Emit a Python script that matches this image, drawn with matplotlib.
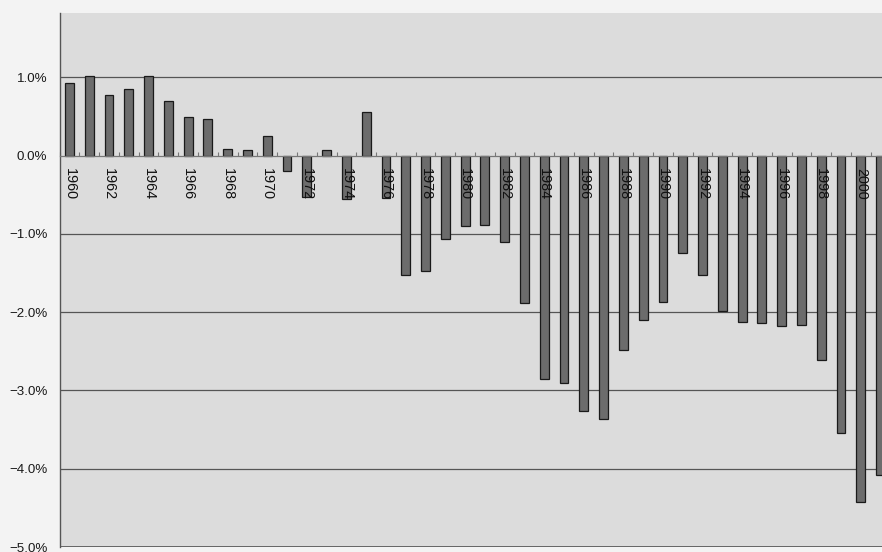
import matplotlib.pyplot as plt
import numpy as np

years = list(range(1960, 2002))
values = [0.93, 1.02, 0.77, 0.85, 1.02, 0.70, 0.49, 0.46, 0.08, 0.07,
          0.25, -0.20, -0.53, 0.07, -0.55, 0.55, -0.54, -1.53, -1.47, -1.07,
          -0.90, -0.89, -1.11, -1.89, -2.86, -2.90, -3.26, -3.36, -2.48, -2.10,
          -1.87, -1.24, -1.52, -1.99, -2.13, -2.14, -2.18, -2.17, -2.61, -3.54,
          -4.43, -4.08]
ytick_vals = [1, 0, -1, -2, -3, -4, -5]

fig = plt.figure(figsize=(8.82, 5.52), dpi=100, facecolor='#f3f3f3')
# plot area runs a little past the right edge of the figure
ax = fig.add_axes([59.5 / 882, 5 / 552, 831 / 882, 534 / 552])
ax.set_facecolor('#dcdcdc')

x = np.arange(len(years))
ax.bar(x, values, width=0.45, color='#6c6c6c', edgecolor='#1a1a1a', linewidth=0.9, zorder=1)

# horizontal gridlines behind the bars
for v in ytick_vals:
    if v != 0:
        ax.axhline(v, color='#555555', linewidth=0.9, zorder=0.5)

ax.set_xlim(-0.5, len(years) - 0.5)
ax.set_ylim(-5.0, 1.82)

ax.set_yticks(ytick_vals)
ax.set_yticklabels(['%.1f%%' % v if v >= 0 else '\u2212%.1f%%' % -v for v in ytick_vals],
                   family='Liberation Sans', fontsize=9.6, color='#1a1a1a')
ax.tick_params(axis='y', length=0, pad=8.8)

# category axis sits on the zero line
ax.spines['bottom'].set_position(('data', 0))
ax.spines['bottom'].set_color('#777777')
ax.spines['bottom'].set_linewidth(0.9)
ax.spines['left'].set_color('#555555')
ax.spines['left'].set_linewidth(1.0)
ax.spines['top'].set_visible(False)
ax.spines['right'].set_visible(False)

ax.set_xticks(x[::2])
ax.set_xticklabels([str(y) for y in years[::2]], rotation=270,
                   family='Liberation Sans', fontsize=10.4, color='#111111')
ax.set_xticks(np.arange(-0.5, len(years), 1.0), minor=True)
ax.tick_params(axis='x', which='major', length=0, pad=9)
ax.tick_params(axis='x', which='minor', direction='in', length=3, width=0.8, color='#777777')

# bottom border of the plot area
ax.axhline(-5.0, color='#666666', linewidth=1.4, zorder=0.6)

fig.savefig('out.png', dpi=100, facecolor=fig.get_facecolor())
